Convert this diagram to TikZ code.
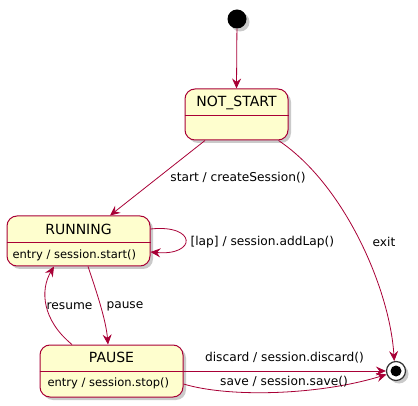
\documentclass[tikz,border=0pt]{standalone}
\usepackage{fontspec}
\setmainfont{DejaVu Sans}
\usetikzlibrary{arrows.meta,shadows,calc}
\definecolor{pborder}{HTML}{A80036}
\definecolor{pfill}{HTML}{FEFECE}
\begin{document}
\begin{tikzpicture}[x=1pt,y=-1pt,
  shadowed/.style={drop shadow={shadow xshift=3pt,shadow yshift=-3pt,opacity=0.35,fill=black!60}},
  statebox/.style={draw=pborder,fill=pfill,line width=1pt,rounded corners=10pt,inner sep=0pt,shadowed},
  divider/.style={draw=pborder,line width=1pt},
  titletext/.style={font=\fontsize{14}{16}\selectfont,text=black},
  bodytext/.style={font=\fontsize{11.5}{13}\selectfont,text=black,anchor=west},
  lbl/.style={font=\fontsize{12.2}{14}\selectfont,text=black},
  conn/.style={draw=pborder,line width=0.8pt,-{Stealth[inset=3.5pt,length=10pt,width=9pt]}}]
\useasboundingbox (0,0) rectangle (418,406);
% start
\node[circle,fill=black,minimum size=19pt,inner sep=0pt,shadowed] (start) at (237,19) {};
% NOT_START
\node[statebox,minimum width=103pt,minimum height=51pt] (ns) at (236.5,114.5) {};
\draw[divider] (ns.west |- 0,116) -- (ns.east |- 0,116);
\node[titletext] (nst) at (236.5,102.5) {NOT\_START};
% RUNNING
\node[statebox,minimum width=143pt,minimum height=50pt] (run) at (78.5,241) {};
\draw[divider] (run.west |- 0,243) -- (run.east |- 0,243);
\node[titletext] (runt) at (78.5,229.5) {RUNNING};
\node[bodytext] (runb) at (9,255) {entry / session.start()};
% PAUSE
\node[statebox,minimum width=143pt,minimum height=52pt] (pause) at (111.5,371) {};
\draw[divider] (pause.west |- 0,371) -- (pause.east |- 0,371);
\node[titletext] (pauset) at (111.5,357.5) {PAUSE};
\node[bodytext] (pauseb) at (44,383.5) {entry / session.stop()};
% end
\node[circle,draw=black!80,fill=white,line width=1.2pt,minimum size=19pt,inner sep=0pt,shadowed] (end) at (396,371) {};
\node[circle,fill=black,minimum size=11pt,inner sep=0pt] (endin) at (end.center) {};
% connectors
\draw[conn] (start) -- (ns.north);
\draw[conn] ([xshift=-31.5pt]ns.south) -- ([xshift=31.5pt]run.north);
\node[lbl] (l1) at (238,178) {start / createSession()};
\draw[conn] ([xshift=42pt]ns.south) .. controls (345,185) and (390,290) .. (end.100);
\node[lbl] (l2) at (384,242) {exit};
\draw[conn] ([yshift=12pt]run.east) .. controls (197,224) and (197,256) .. ([yshift=-11pt]run.east);
\node[lbl,anchor=west] (l3) at (187,242) {[lap] / session.addLap()};
\draw[conn] ([xshift=9.5pt]run.south) .. controls (96,290) and (106,320) .. ([xshift=-3.5pt]pause.north);
\node[lbl,anchor=west] (l4) at (103,306) {pause};
\draw[conn] ([xshift=-39.5pt]pause.north) .. controls (42,320) and (40,290) .. ([xshift=-24.5pt]run.south);
\node[lbl,anchor=east] (l5) at (96,306) {resume};
\draw[conn] (pause.east) -- (end.west);
\node[lbl] (l6) at (284.5,358) {discard / session.discard()};
\draw[conn] ([yshift=-13pt]pause.east) .. controls (230,398) and (320,395) .. (end.200);
\node[lbl] (l7) at (284,382) {save / session.save()};
\end{tikzpicture}
\end{document}
